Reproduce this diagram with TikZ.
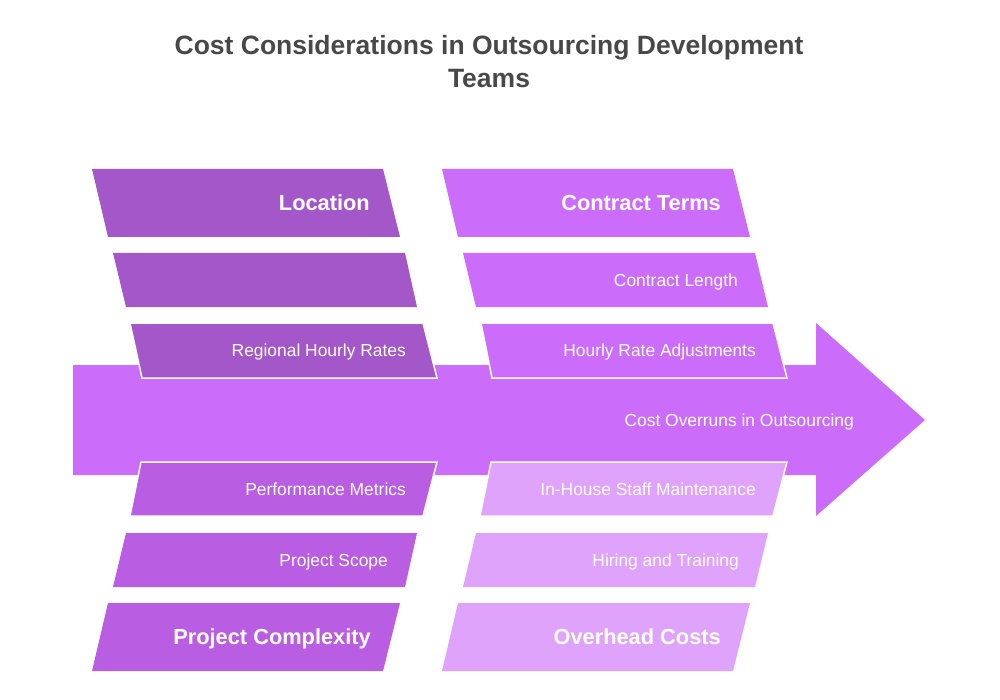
\documentclass[tikz,border=0pt]{standalone}
\usepackage{fontspec}
\setmainfont{Liberation Sans}
\definecolor{cDark}{HTML}{A357C8}
\definecolor{cMain}{HTML}{CC6CFA}
\definecolor{cMid}{HTML}{B95DE2}
\definecolor{cLight}{HTML}{E0A3FC}
\definecolor{cTitle}{HTML}{484848}
\begin{document}
\begin{tikzpicture}[x=1pt,y=-1pt]
\tikzset{
  lbl/.style={text=white,anchor=east,inner sep=0pt,text height=12.4pt,text depth=0pt,font=\fontsize{17.4}{20}\selectfont},
  hdr/.style={text=white,anchor=east,inner sep=0pt,text height=15.6pt,text depth=0pt,font=\bfseries\fontsize{21.8}{25}\selectfont},
  rim/.style={draw=white,line width=1.5pt,line join=miter}
}
\useasboundingbox (0,0) rectangle (1000,700);
% title
\node[text=cTitle,font=\bfseries\fontsize{26.5}{33}\selectfont,align=center,anchor=base,inner sep=0pt] (title) at (489,88) {Cost Considerations in Outsourcing Development\\Teams};
% main arrow
\fill[cMain] (73,365) -- (816,365) -- (816,323) -- (925,420) -- (816,516) -- (816,475) -- (73,475) -- cycle;
\node[lbl] (effect) at (854,420) {Cost Overruns in Outsourcing};
% upper left
\fill[cDark] (92,169) -- (383,169) -- (400,237) -- (108,237) -- cycle;
\fill[cDark] (113,253) -- (405,253) -- (417,307) -- (126,307) -- cycle;
\fill[cDark,rim] (130,323) -- (423,323) -- (437,378) -- (142,378) -- cycle;
\node[hdr] (location) at (370,203) {Location};
\node[lbl] (regional) at (406,350) {Regional Hourly Rates};
% upper right
\fill[cMain] (442,169) -- (733,169) -- (750,237) -- (458,237) -- cycle;
\fill[cMain] (463,253) -- (755,253) -- (768,307) -- (476,307) -- cycle;
\fill[cMain,rim] (481,323) -- (773,323) -- (787,378) -- (492,378) -- cycle;
\node[hdr] (contract) at (721,203) {Contract Terms};
\node[lbl] (length) at (738,280) {Contract Length};
\node[lbl] (adjust) at (756,350) {Hourly Rate Adjustments};
% lower left
\fill[cMid,rim] (141,462) -- (437,462) -- (423,516) -- (130,516) -- cycle;
\fill[cMid] (126,533) -- (417,533) -- (405,587) -- (113,587) -- cycle;
\fill[cMid] (108,603) -- (400,603) -- (383,671) -- (92,671) -- cycle;
\node[lbl] (perf) at (406,489) {Performance Metrics};
\node[lbl] (scope) at (388,560) {Project Scope};
\node[hdr] (complex) at (371,637) {Project Complexity};
% lower right
\fill[cLight,rim] (491,462) -- (787,462) -- (773,516) -- (480,516) -- cycle;
\fill[cLight] (476,533) -- (768,533) -- (755,587) -- (463,587) -- cycle;
\fill[cLight] (458,603) -- (750,603) -- (733,671) -- (442,671) -- cycle;
\node[lbl] (inhouse) at (756,489) {In-House Staff Maintenance};
\node[lbl] (hiring) at (739,560) {Hiring and Training};
\node[hdr] (overhead) at (721,637) {Overhead Costs};
\end{tikzpicture}
\end{document}
